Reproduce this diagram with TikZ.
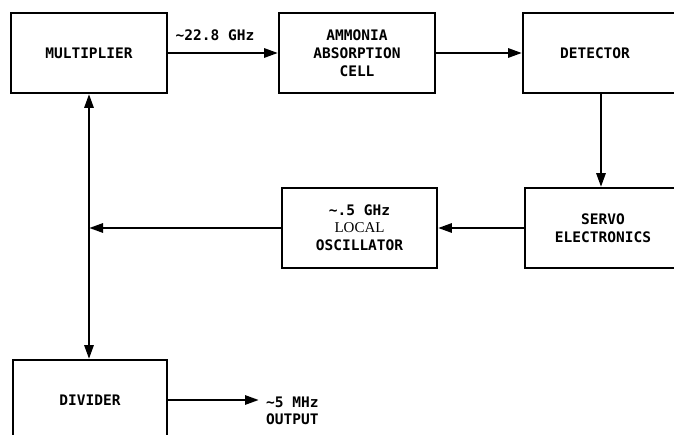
\documentclass[tikz,border=0pt]{standalone}
\usepackage{fontspec}
\setmonofont{DejaVu Sans Mono}
\newfontfamily\lblserif{Liberation Serif}
\usepackage{tikz}
\usetikzlibrary{arrows.meta, calc, positioning}

\begin{document}
\begin{tikzpicture}[x=1pt,y=-1pt,
            box/.style={draw,line width=1.8pt,minimum width=156pt,minimum height=80pt,
                align=center,font=\ttfamily\bfseries\fontsize{14.5}{18}\selectfont},
            lbl/.style={inner sep=0pt,align=right,font=\ttfamily\bfseries\fontsize{14.5}{17}\selectfont},
            arr/.style={line width=2.8pt,-{Triangle[length=14pt,width=9pt]}}]
            \useasboundingbox (0,0) rectangle (674,435); %枠
            \clip (0,0) rectangle (674,435);
            \node[box] (mult) at (89,53) {MULTIPLIER}; %上段
            \node[box] (amm) at (357,53) {AMMONIA\\ABSORPTION\\CELL};
            \node[box] (det) at (601,53) {\hspace*{-12pt}DETECTOR};
            \node[box] (servo) at (603,228) {SERVO\\ELECTRONICS}; %中段
            \node[box,minimum width=155pt] (lo) at (359.5,228)
                {∼.5 GHz\\[-1pt]{\lblserif\mdseries\fontsize{15}{17}\selectfont LOCAL}\\OSCILLATOR};
            \node[box,minimum width=154pt] (div) at (90,400) {DIVIDER}; %下段
            \node[lbl] (f1) at (215,35) {∼22.8 GHz}; %周波数
            \node[lbl,anchor=west] (out) at (266,411) {∼5 MHz\\OUTPUT};
            \coordinate (j) at (mult.south |- lo.west); %分岐点
            \draw[arr] (mult.east) -- (amm.west);
            \draw[arr] (amm.east) -- (det.west);
            \draw[arr] (det.south) -- (det.south |- servo.north);
            \draw[arr] (servo.west) -- (lo.east);
            \draw[arr] (lo.west) -- (j);
            \draw[arr,{Triangle[length=14pt,width=9pt]}-{Triangle[length=14pt,width=9pt]}]
                (mult.south) -- (mult.south |- div.north); %上下
            \draw[arr,shorten >=7pt] (div.east) -- (div.east -| out.west);
\end{tikzpicture}
\end{document}
